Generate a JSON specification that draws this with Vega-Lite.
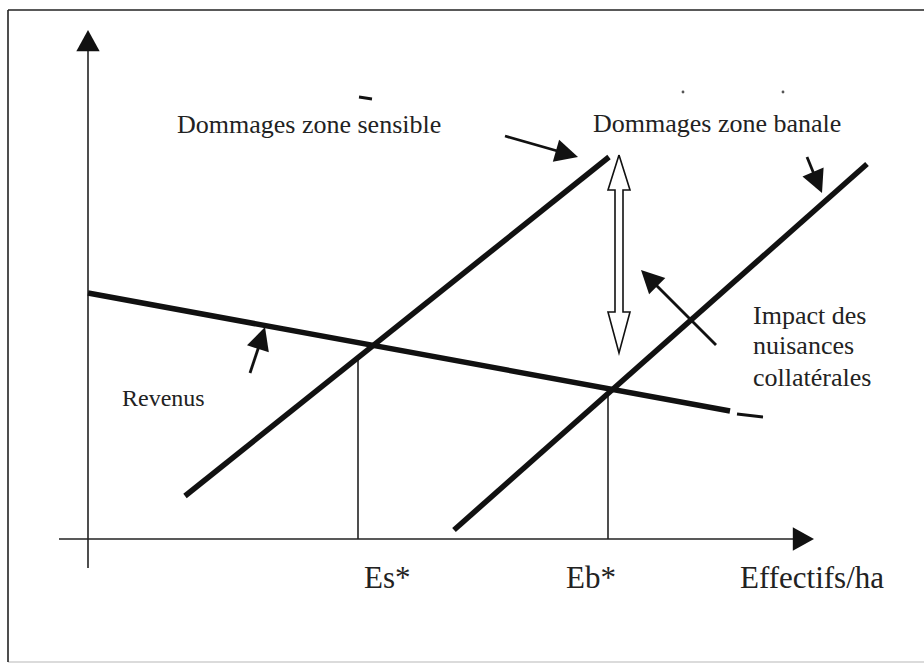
{
  "$schema": "https://vega.github.io/schema/vega-lite/v6.json",
  "width": 924,
  "height": 665,
  "autosize": "none",
  "padding": 0,
  "background": "white",
  "config": {"view": {"stroke": null}},
  "datasets": {
    "thick": [
      {"seg": "Revenus", "o": 0, "x": 88, "y": 293},
      {"seg": "Revenus", "o": 1, "x": 730, "y": 411},
      {"seg": "Dommages zone sensible", "o": 0, "x": 185, "y": 496},
      {"seg": "Dommages zone sensible", "o": 1, "x": 609, "y": 157},
      {"seg": "Dommages zone banale", "o": 0, "x": 454, "y": 530},
      {"seg": "Dommages zone banale", "o": 1, "x": 867, "y": 164}
    ],
    "thin": [
      {"seg": "cadre haut", "o": 0, "x": 8, "y": 10},
      {"seg": "cadre haut", "o": 1, "x": 924, "y": 10},
      {"seg": "cadre gauche", "o": 0, "x": 8, "y": 10},
      {"seg": "cadre gauche", "o": 1, "x": 8, "y": 662},
      {"seg": "axe y", "o": 0, "x": 88, "y": 568},
      {"seg": "axe y", "o": 1, "x": 88, "y": 45},
      {"seg": "axe x", "o": 0, "x": 59, "y": 539},
      {"seg": "axe x", "o": 1, "x": 800, "y": 539},
      {"seg": "Es*", "o": 0, "x": 358, "y": 358},
      {"seg": "Es*", "o": 1, "x": 358, "y": 539},
      {"seg": "Eb*", "o": 0, "x": 608, "y": 391},
      {"seg": "Eb*", "o": 1, "x": 608, "y": 539}
    ],
    "faint": [
      {"seg": "cadre bas", "o": 0, "x": 8, "y": 662},
      {"seg": "cadre bas", "o": 1, "x": 924, "y": 662}
    ],
    "shafts": [
      {"seg": "fleche sensible", "o": 0, "x": 505, "y": 136},
      {"seg": "fleche sensible", "o": 1, "x": 568, "y": 154},
      {"seg": "fleche banale", "o": 0, "x": 807, "y": 157},
      {"seg": "fleche banale", "o": 1, "x": 818, "y": 184},
      {"seg": "fleche impact", "o": 0, "x": 716, "y": 345},
      {"seg": "fleche impact", "o": 1, "x": 648, "y": 277},
      {"seg": "fleche revenus", "o": 0, "x": 250, "y": 373},
      {"seg": "fleche revenus", "o": 1, "x": 262, "y": 337},
      {"seg": "tiret", "o": 0, "x": 737, "y": 414},
      {"seg": "tiret", "o": 1, "x": 763, "y": 417},
      {"seg": "trait", "o": 0, "x": 359, "y": 97},
      {"seg": "trait", "o": 1, "x": 372, "y": 99}
    ],
    "outline": [
      {"o": 0, "x": 619, "y": 155},
      {"o": 1, "x": 630, "y": 190},
      {"o": 2, "x": 623, "y": 190},
      {"o": 3, "x": 623, "y": 312},
      {"o": 4, "x": 630, "y": 312},
      {"o": 5, "x": 619, "y": 353},
      {"o": 6, "x": 608, "y": 312},
      {"o": 7, "x": 615, "y": 312},
      {"o": 8, "x": 615, "y": 190},
      {"o": 9, "x": 608, "y": 190},
      {"o": 10, "x": 619, "y": 155}
    ],
    "axisHeads": [
      {"name": "axe y", "x": 88, "y": 30, "dir": 0},
      {"name": "axe x", "x": 814, "y": 539, "dir": 90}
    ],
    "heads": [
      {"name": "fleche sensible", "x": 578, "y": 157, "dir": 106},
      {"name": "fleche banale", "x": 822, "y": 193, "dir": 157},
      {"name": "fleche impact", "x": 641, "y": 270, "dir": 315},
      {"name": "fleche revenus", "x": 265, "y": 327, "dir": 18}
    ],
    "dots": [
      {"x": 683, "y": 92},
      {"x": 783, "y": 92}
    ],
    "labels": [
      {"text": "Dommages zone sensible", "x": 177, "y": 133},
      {"text": "Dommages zone banale", "x": 593, "y": 132},
      {"text": "Impact des", "x": 753, "y": 324},
      {"text": "nuisances", "x": 753, "y": 354},
      {"text": "collatérales", "x": 753, "y": 386}
    ],
    "small": [
      {"text": "Revenus", "x": 122, "y": 406}
    ],
    "axisLabels": [
      {"text": "Es*", "x": 364, "y": 588},
      {"text": "Eb*", "x": 566, "y": 588},
      {"text": "Effectifs/ha", "x": 740, "y": 588}
    ]
  },
  "encoding": {
    "x": {"field": "x", "type": "quantitative", "scale": {"domain": [0, 924], "nice": false, "zero": false}, "axis": null},
    "y": {"field": "y", "type": "quantitative", "scale": {"domain": [0, 665], "nice": false, "zero": false, "reverse": true}, "axis": null}
  },
  "layer": [
    {
      "data": {"name": "faint"},
      "mark": {"type": "line", "stroke": "#cfcfcf", "strokeWidth": 1.5},
      "encoding": {"detail": {"field": "seg"}, "order": {"field": "o"}}
    },
    {
      "data": {"name": "thin"},
      "mark": {"type": "line", "stroke": "#222", "strokeWidth": 1.6},
      "encoding": {"detail": {"field": "seg"}, "order": {"field": "o"}}
    },
    {
      "data": {"name": "thick"},
      "mark": {"type": "line", "stroke": "#111", "strokeWidth": 5.5, "strokeCap": "butt"},
      "encoding": {"detail": {"field": "seg"}, "order": {"field": "o"}}
    },
    {
      "data": {"name": "shafts"},
      "mark": {"type": "line", "stroke": "#111", "strokeWidth": 2.8},
      "encoding": {"detail": {"field": "seg"}, "order": {"field": "o"}}
    },
    {
      "data": {"name": "outline"},
      "mark": {"type": "line", "stroke": "#111", "strokeWidth": 1.6, "strokeJoin": "miter"},
      "encoding": {"order": {"field": "o"}}
    },
    {
      "data": {"name": "axisHeads"},
      "mark": {"type": "point", "shape": "M0,0L0.55,1L-0.55,1Z", "filled": true, "fill": "#111", "strokeWidth": 0, "opacity": 1, "size": 1800},
      "encoding": {"angle": {"field": "dir", "type": "quantitative", "scale": null}}
    },
    {
      "data": {"name": "heads"},
      "mark": {"type": "point", "shape": "M0,0L0.5,1L-0.5,1Z", "filled": true, "fill": "#111", "strokeWidth": 0, "opacity": 1, "size": 2100},
      "encoding": {"angle": {"field": "dir", "type": "quantitative", "scale": null}}
    },
    {
      "data": {"name": "dots"},
      "mark": {"type": "point", "shape": "circle", "filled": true, "fill": "#555", "strokeWidth": 0, "opacity": 1, "size": 8}
    },
    {
      "data": {"name": "labels"},
      "mark": {"type": "text", "font": "Liberation Serif", "fontSize": 26, "align": "left", "baseline": "alphabetic", "color": "#222"},
      "encoding": {"text": {"field": "text"}}
    },
    {
      "data": {"name": "small"},
      "mark": {"type": "text", "font": "Liberation Serif", "fontSize": 24, "align": "left", "baseline": "alphabetic", "color": "#222"},
      "encoding": {"text": {"field": "text"}}
    },
    {
      "data": {"name": "axisLabels"},
      "mark": {"type": "text", "font": "Liberation Serif", "fontSize": 31, "align": "left", "baseline": "alphabetic", "color": "#222"},
      "encoding": {"text": {"field": "text"}}
    }
  ]
}
